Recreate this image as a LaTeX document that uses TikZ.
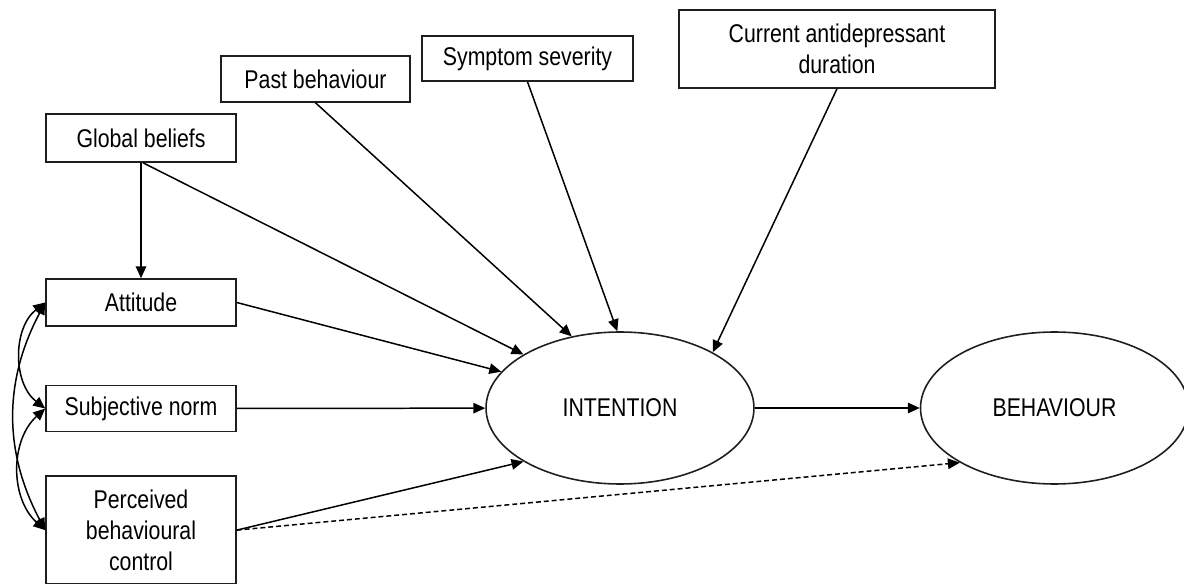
\documentclass[tikz,border=0pt]{standalone}
\usepackage{fontspec}
\setmainfont{Liberation Sans}[FakeStretch=0.83]
\usetikzlibrary{positioning,arrows.meta,shapes.geometric}
\definecolor{boxline}{RGB}{30,30,30}
\tikzset{
  txt/.style={font=\fontsize{14.6}{17.5}\selectfont},
  box/.style={draw=boxline, line width=0.9pt, align=center, inner sep=2pt, txt},
  latent/.style={draw=boxline, ellipse, line width=0.9pt, inner sep=0pt,
                 minimum width=5.36cm, minimum height=3.04cm, txt},
  path/.style={-{Triangle[length=6.8pt,width=6pt]}, line width=0.85pt},
  cov/.style={{Triangle[length=6.8pt,width=6pt]}-{Triangle[length=6.8pt,width=6pt]}, line width=0.85pt},
}

\begin{document}
\begin{tikzpicture}[x=0.02cm, y=-0.02cm]
  \useasboundingbox (0,0) rectangle (1184,584);

  % background factors
  \node[box, minimum width=3.8cm, minimum height=0.96cm] (gb) at (141,138) {Global beliefs};
  \node[box, minimum width=3.78cm, minimum height=0.92cm] (pb) at (315.5,79) {Past behaviour};
  \node[box, minimum width=4.22cm, minimum height=0.9cm] (sev) at (527.5,58.5) {Symptom severity};
  \node[box, minimum width=6.32cm, minimum height=1.56cm] (cad) at (837,49) {Current antidepressant\\duration};

  % TPB predictors
  \node[box, minimum width=3.8cm, minimum height=0.94cm] (att) at (141,302.5) {Attitude};
  \node[box, minimum width=3.8cm, minimum height=0.92cm, below=1.16cm of att] (sn) {Subjective norm};
  \node[box, minimum width=3.8cm, minimum height=2.16cm, below=0.86cm of sn] (pbc) {Perceived\\behavioural\\control};

  % outcomes
  \node[latent] (int) at (620,408) {INTENTION};
  \node[latent, right=3.3cm of int] (beh) {BEHAVIOUR};

  \draw[path] (gb) -- (att);
  \draw[path] (gb.south) ++(2,0) -- (int.151);
  \draw[path] (pb.south) -- (int.124);
  \draw[path] (sev.south) -- (int.92);
  \draw[path] (cad.south) -- (int.31);
  \draw[path] (att.east) -- (int.163);
  \draw[path] (sn) -- (int);
  \draw[path] (pbc.east) -- (int.209);
  \draw[path] (int) -- (beh);
  \draw[path, dash pattern=on 2.8pt off 1.7pt] (pbc.east) -- (beh.210);

  % correlations
  \draw[cov] (att.west) to[bend right=52] (sn.west);
  \draw[cov] (sn.west) to[bend right=48] (pbc.west);
  \draw[cov] (att.west) to[bend right=28] (pbc.west);
\end{tikzpicture}
\end{document}
